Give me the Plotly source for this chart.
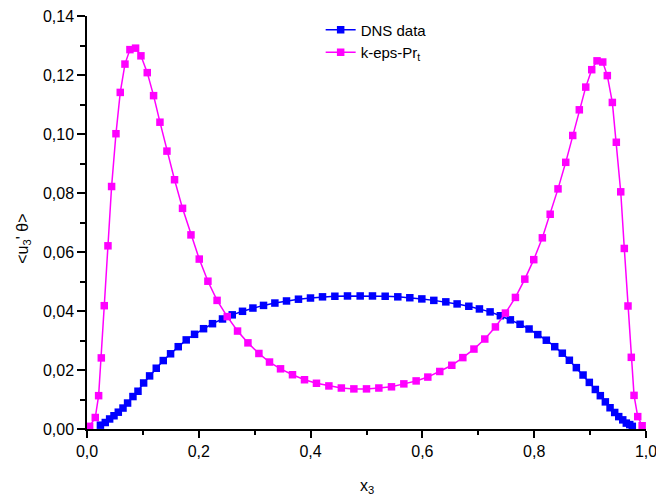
import plotly.graph_objects as go

# Wall-normal coordinate and turbulent heat flux <u3' theta>
dns_x = [0.024, 0.0327, 0.0405, 0.0483, 0.056, 0.0644, 0.0726, 0.0822, 0.0912, 0.1013,
         0.112, 0.1239, 0.1364, 0.1495, 0.1632, 0.1775, 0.1924, 0.2085, 0.2245, 0.2424,
         0.2598, 0.2782, 0.2968, 0.3158, 0.3361, 0.3569, 0.3783, 0.3998, 0.4213, 0.4434,
         0.466, 0.4887, 0.5107, 0.5334, 0.556, 0.5775, 0.599, 0.6204, 0.6419, 0.6621,
         0.683, 0.702, 0.7211, 0.7395, 0.7574, 0.7747, 0.7908, 0.8064, 0.8217, 0.8367,
         0.8503, 0.8629, 0.8754, 0.8874, 0.8986, 0.9094, 0.9183, 0.9273, 0.9357, 0.944,
         0.9512, 0.9584, 0.9648, 0.9709, 0.9755]
dns_y = [0.0013, 0.0022, 0.0034, 0.0045, 0.0057, 0.0071, 0.0088, 0.0110, 0.0128, 0.0156,
         0.0180, 0.0206, 0.0232, 0.0255, 0.0279, 0.0302, 0.0321, 0.0340, 0.0357, 0.0373,
         0.0387, 0.0399, 0.0410, 0.0419, 0.0427, 0.0434, 0.0440, 0.0444, 0.0448, 0.0450,
         0.0451, 0.0451, 0.0451, 0.0450, 0.0448, 0.0445, 0.0441, 0.0436, 0.0431, 0.0424,
         0.0416, 0.0407, 0.0397, 0.0384, 0.0370, 0.0355, 0.0339, 0.0320, 0.0301, 0.0279,
         0.0257, 0.0233, 0.0208, 0.0183, 0.0158, 0.0134, 0.0113, 0.0092, 0.0072, 0.0056,
         0.0042, 0.0031, 0.0020, 0.0015, 0.0009]

keps_x = [0.0047, 0.0148, 0.0208, 0.0256, 0.0309, 0.0375, 0.044, 0.0518, 0.0595, 0.0679,
          0.0768, 0.0869, 0.0965, 0.1078, 0.1191, 0.1305, 0.143, 0.1566, 0.1709, 0.186,
          0.2008, 0.2163, 0.2327, 0.2509, 0.2693, 0.2879, 0.3075, 0.3265, 0.3462, 0.3676,
          0.3891, 0.4105, 0.4327, 0.455, 0.4774, 0.5, 0.5221, 0.5447, 0.5668, 0.5888,
          0.6097, 0.6311, 0.6526, 0.6723, 0.6922, 0.7116, 0.7306, 0.7485, 0.7664, 0.7832,
          0.7992, 0.8146, 0.8286, 0.8426, 0.8564, 0.8689, 0.8807, 0.8922, 0.9029, 0.9124,
          0.9226, 0.9308, 0.9398, 0.9469, 0.9548, 0.9612, 0.9678, 0.9737, 0.9786, 0.9852,
          0.9931]
keps_y = [0.0009, 0.0039, 0.0113, 0.0241, 0.0418, 0.0621, 0.0822, 0.1001, 0.1141, 0.1237,
          0.1286, 0.1291, 0.1265, 0.1208, 0.1130, 0.1040, 0.0942, 0.0845, 0.0748, 0.0658,
          0.0576, 0.0501, 0.0436, 0.0381, 0.0332, 0.0292, 0.0256, 0.0227, 0.0204, 0.0184,
          0.0167, 0.0155, 0.0146, 0.0139, 0.0136, 0.0136, 0.0139, 0.0143, 0.0153, 0.0163,
          0.0176, 0.0195, 0.0216, 0.0242, 0.0271, 0.0305, 0.0346, 0.0393, 0.0446, 0.0508,
          0.0574, 0.0648, 0.0728, 0.0814, 0.0904, 0.0995, 0.1082, 0.1159, 0.1218, 0.1248,
          0.1244, 0.1198, 0.1107, 0.0972, 0.0804, 0.0612, 0.0417, 0.0243, 0.0114, 0.0042,
          0.0011]

# Axis ticks
x_ticks = [0.0, 0.2, 0.4, 0.6, 0.8, 1.0]
x_tick_text = ["0,0", "0,2", "0,4", "0,6", "0,8", "1,0"]
y_ticks = [0.00, 0.02, 0.04, 0.06, 0.08, 0.10, 0.12, 0.14]
y_tick_text = ["0,00", "0,02", "0,04", "0,06", "0,08", "0,10", "0,12", "0,14"]

FONT = "Liberation Sans, Arial, sans-serif"

fig = go.Figure()
fig.add_trace(go.Scatter(
    x=dns_x, y=dns_y, mode="lines+markers", name="DNS data",
    line=dict(color="#0000FF", width=1.5),
    marker=dict(symbol="square", size=7.5, color="#0000FF"),
    cliponaxis=False,
))
fig.add_trace(go.Scatter(
    x=keps_x, y=keps_y, mode="lines+markers", name="k-eps-Pr<sub>t</sub>",
    line=dict(color="#FF00FF", width=1.5),
    marker=dict(symbol="square", size=7.5, color="#FF00FF"),
    cliponaxis=False,
))

axis_common = dict(
    showline=True, linecolor="black", linewidth=1.5,
    showgrid=False, zeroline=False, ticks="outside",
    tickcolor="black", tickwidth=1.5,
    tickfont=dict(family=FONT, size=16, color="black"),
    ticklabeloverflow="allow", automargin=False,
)

fig.update_xaxes(
    range=[0, 1], tickmode="array", tickvals=x_ticks, ticktext=x_tick_text, ticklen=7,
    minor=dict(dtick=0.1, tick0=0, ticklen=4, ticks="outside", tickcolor="black", tickwidth=1.5),
    **axis_common,
)
fig.update_yaxes(
    range=[0, 0.14], tickmode="array", tickvals=y_ticks, ticktext=y_tick_text, ticklen=8,
    minor=dict(dtick=0.01, tick0=0, ticklen=5, ticks="outside", tickcolor="black", tickwidth=1.5),
    **axis_common,
)

fig.add_annotation(
    text="x<sub>3</sub>", xref="paper", yref="paper", x=0.5, y=-0.14,
    xanchor="center", yanchor="middle", showarrow=False,
    font=dict(family=FONT, size=16, color="black"),
)
fig.add_annotation(
    text="&lt;u<sub>3</sub>' θ&gt;", xref="paper", yref="paper", x=-0.115, y=0.46,
    xanchor="center", yanchor="middle", showarrow=False, textangle=-90,
    font=dict(family=FONT, size=16, color="black"),
)

fig.update_layout(
    width=656, height=495,
    margin=dict(l=87, r=10, t=16, b=66, autoexpand=False),
    paper_bgcolor="white", plot_bgcolor="white",
    font=dict(family=FONT, size=15, color="black"),
    showlegend=True,
    legend=dict(
        x=0.418, y=1.006, xanchor="left", yanchor="top",
        bgcolor="rgba(0,0,0,0)", borderwidth=0,
        font=dict(family=FONT, size=15, color="black"),
        tracegroupgap=0,
    ),
)

fig.write_html("out.html")
